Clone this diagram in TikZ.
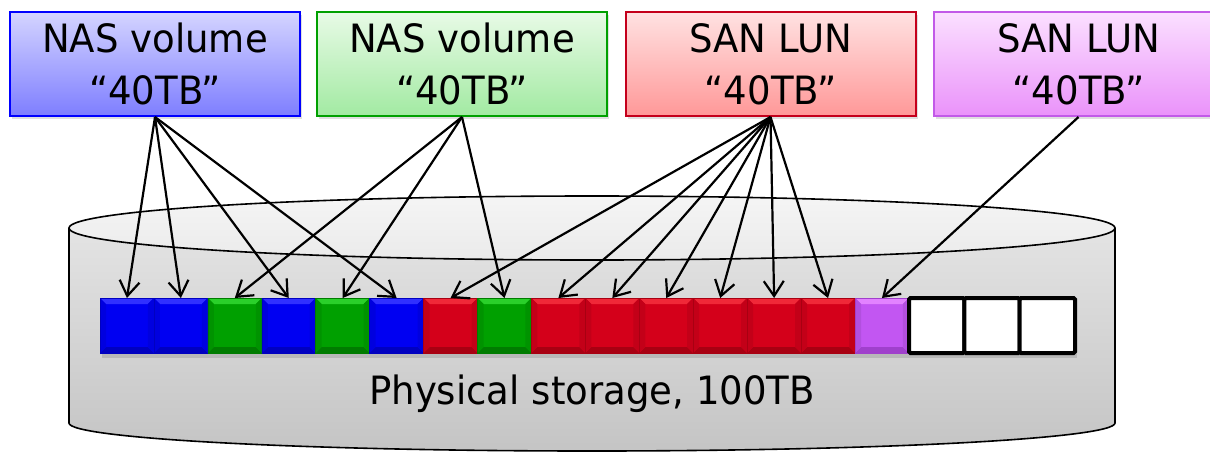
\documentclass[tikz,border=0pt]{standalone}
\usepackage{fontspec}
\setmainfont{DejaVu Sans}[FakeStretch=0.95]
\usetikzlibrary{arrows.meta,shadows}

% volume box colours
\definecolor{nasAtop}{HTML}{D4D4FF}\definecolor{nasAbot}{HTML}{7E7EFF}\definecolor{nasAline}{HTML}{0000FF}
\definecolor{nasBtop}{HTML}{E8FAE6}\definecolor{nasBbot}{HTML}{A2EAA2}\definecolor{nasBline}{HTML}{00A000}
\definecolor{sanAtop}{HTML}{FFE2E2}\definecolor{sanAbot}{HTML}{FF9898}\definecolor{sanAline}{HTML}{C4001C}
\definecolor{sanBtop}{HTML}{FBE0FF}\definecolor{sanBbot}{HTML}{EA92FA}\definecolor{sanBline}{HTML}{C25AE8}
% storage block colours: base, light bevel, dark bevel
\definecolor{kblue}{HTML}{0000F2}\definecolor{kblue-l}{HTML}{3030FF}\definecolor{kblue-d}{HTML}{0000C0}
\definecolor{kgreen}{HTML}{00A000}\definecolor{kgreen-l}{HTML}{2AD02A}\definecolor{kgreen-d}{HTML}{007C00}
\definecolor{kred}{HTML}{D4001A}\definecolor{kred-l}{HTML}{F02838}\definecolor{kred-d}{HTML}{A80012}
\definecolor{kpurple}{HTML}{C256F2}\definecolor{kpurple-l}{HTML}{E282FF}\definecolor{kpurple-d}{HTML}{A040CC}

\tikzset{
  volbox/.style n args={3}{rectangle, minimum width=290pt, minimum height=104pt,
    inner sep=0pt, align=center, top color=#1, bottom color=#2, draw=#3,
    line width=2pt, font=\fontsize{39}{52}\selectfont,
    drop shadow={shadow xshift=2pt, shadow yshift=-3pt, opacity=0.25}},
  blk/.style={rectangle, minimum width=53.93pt, minimum height=55pt,
    inner sep=0pt, outer sep=0pt, fill=#1,
    path picture={
      \fill[#1-l] (path picture bounding box.north west) -- (path picture bounding box.north east)
        -- ([xshift=-6pt,yshift=-6pt]path picture bounding box.north east)
        -- ([xshift=6pt,yshift=-6pt]path picture bounding box.north west) -- cycle;
      \fill[#1-d] (path picture bounding box.south west) -- (path picture bounding box.south east)
        -- ([xshift=-6pt,yshift=6pt]path picture bounding box.south east)
        -- ([xshift=6pt,yshift=6pt]path picture bounding box.south west) -- cycle;
      \fill[#1!92!black] (path picture bounding box.north west)
        -- ([xshift=6pt,yshift=-6pt]path picture bounding box.north west)
        -- ([xshift=6pt,yshift=6pt]path picture bounding box.south west)
        -- (path picture bounding box.south west) -- cycle;
      \fill[#1!92!black] (path picture bounding box.north east)
        -- ([xshift=-6pt,yshift=-6pt]path picture bounding box.north east)
        -- ([xshift=-6pt,yshift=6pt]path picture bounding box.south east)
        -- (path picture bounding box.south east) -- cycle;
    },
    draw=#1-d, line width=0.5pt},
  freeblk/.style={rectangle, minimum width=55.33pt, minimum height=55pt,
    inner sep=0pt, outer sep=0pt, fill=white, draw=black, line width=4pt,
    rounded corners=1.5pt},
  arr/.style={-{Straight Barb[length=15pt,width=20pt]}, line width=2.2pt, black},
}

\begin{document}
\begin{tikzpicture}[x=1pt,y=-1pt]
\useasboundingbox (0,0) rectangle (1210,451);
\begin{scope}
\clip (0,0) rectangle (1210,451);

% the storage cylinder
\path[top color=black!9, bottom color=black!23]
  (69,228) -- (69,423) arc[start angle=180,end angle=0,x radius=523,y radius=28]
  -- (1115,228) arc[start angle=0,end angle=-180,x radius=523,y radius=32] -- cycle;
\draw[line width=1.6pt] (69,228) -- (69,423) arc[start angle=180,end angle=0,x radius=523,y radius=28]
  -- (1115,228);
\draw[line width=1.6pt, top color=black!4, bottom color=black!8]
  (592,228) ellipse[x radius=523, y radius=32];

% volume boxes
\node[volbox={nasAtop}{nasAbot}{nasAline}] (nas1) at (155,64)  {NAS volume\\“40TB”};
\node[volbox={nasBtop}{nasBbot}{nasBline}] (nas2) at (462,64)  {NAS volume\\“40TB”};
\node[volbox={sanAtop}{sanAbot}{sanAline}] (san1) at (770.5,64) {SAN LUN\\“40TB”};
\node[volbox={sanBtop}{sanBbot}{sanBline}] (san2) at (1078.5,64) {SAN LUN\\“40TB”};

% shadow under the block strip
\fill[black, opacity=0.12] (102,353) rectangle (1077,358);

% allocated blocks
\foreach \c [count=\i] in {kblue,kblue,kgreen,kblue,kgreen,kblue,kred,kgreen,
                           kred,kred,kred,kred,kred,kred,kpurple}
  \node[blk=\c] (b\i) at ({100+(\i-0.5)*53.93},325.5) {};
% free blocks
\foreach \i in {1,2,3}
  \node[freeblk] (w\i) at ({909+(\i-0.5)*55.33},325.5) {};

\node[anchor=base, font=\fontsize{39}{47}\selectfont] (cap) at (592,404) {Physical storage, 100TB};

% mappings from volumes to blocks
\foreach \j in {1,2,4,6} \draw[arr] (nas1.south) -- (b\j.north);
\foreach \j in {3,5,8} \draw[arr] (nas2.south) -- (b\j.north);
\foreach \j in {7,9,10,11,12,13,14} \draw[arr] (san1.south) -- (b\j.north);
\draw[arr] (san2.south) -- (b15.north);
\end{scope}
\end{tikzpicture}
\end{document}
